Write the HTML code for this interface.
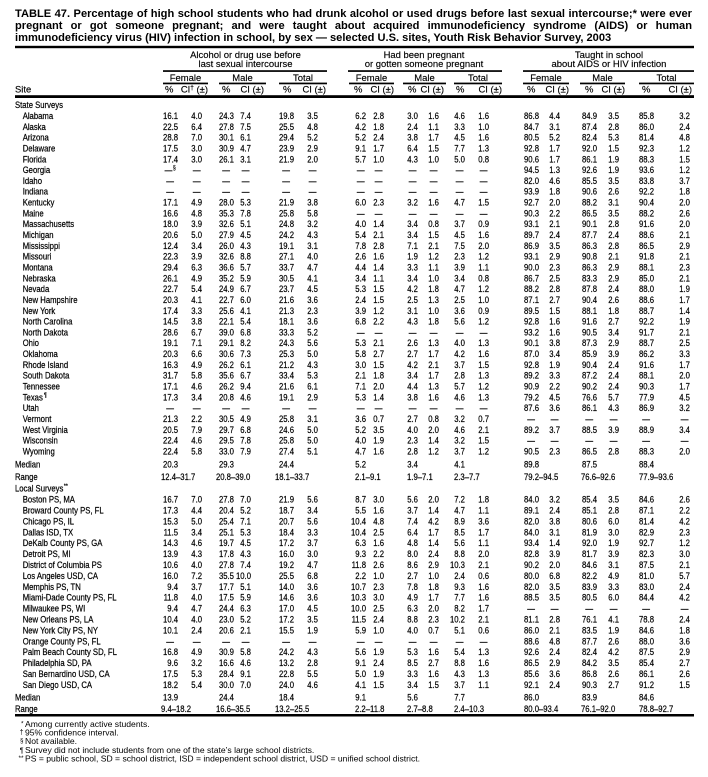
<!DOCTYPE html>
<html><head><meta charset="utf-8">
<style>
html,body{margin:0;padding:0;background:#fff;}
body{width:708px;height:777px;position:relative;overflow:hidden;}
.t{position:absolute;left:15px;width:677px;font-family:"Liberation Sans",Arial,sans-serif;font-weight:bold;font-size:11.1px;line-height:12px;color:#000;}
.j{text-align:justify;text-align-last:justify;}
.nw{white-space:nowrap;}
svg{position:absolute;left:0;top:0;}
svg text{font-family:"Liberation Sans",Arial,sans-serif;fill:#000;}
.h{font-size:9.45px;}
.h text{stroke:#000;stroke-width:0.15;}
.b text{stroke:#000;stroke-width:0.22;}
.m{text-anchor:middle;}
.n{text-anchor:end;}
.s{font-size:6px;}
</style></head><body>
<svg width="708" height="777" viewBox="0 0 708 777" xmlns="http://www.w3.org/2000/svg">
<rect x="0" y="0" width="708" height="777" fill="#fff"/>
<!-- rules -->
<rect x="15" y="45.8" width="679" height="2.4" fill="#000"/>
<rect x="163" y="70.2" width="164" height="1.7" fill="#000"/>
<rect x="348" y="70.2" width="154" height="1.7" fill="#000"/>
<rect x="523" y="70.2" width="171" height="1.7" fill="#000"/>
<rect x="163" y="82.6" width="45" height="1.7" fill="#000"/>
<rect x="219" y="82.6" width="47" height="1.7" fill="#000"/>
<rect x="279" y="82.6" width="48" height="1.7" fill="#000"/>
<rect x="349" y="82.6" width="45" height="1.7" fill="#000"/>
<rect x="403" y="82.6" width="43" height="1.7" fill="#000"/>
<rect x="454" y="82.6" width="48" height="1.7" fill="#000"/>
<rect x="523" y="82.6" width="46" height="1.7" fill="#000"/>
<rect x="580" y="82.6" width="45" height="1.7" fill="#000"/>
<rect x="639" y="82.6" width="55" height="1.7" fill="#000"/>
<rect x="15" y="95.2" width="679" height="2.8" fill="#000"/>
<rect x="15" y="714" width="679" height="2.5" fill="#000"/>

<!-- header -->
<g class="h">
<text class="m" x="245.5" y="58.2">Alcohol or drug use before</text>
<text class="m" x="245.5" y="67.2">last sexual intercourse</text>
<text class="m" x="424" y="58.2">Had been pregnant</text>
<text class="m" x="424" y="67.2">or gotten someone pregnant</text>
<text class="m" x="609" y="58.2">Taught in school</text>
<text class="m" x="609" y="67.2">about AIDS or HIV infection</text>
<text class="m" x="185.5" y="80.8">Female</text>
<text class="m" x="242.5" y="80.8">Male</text>
<text class="m" x="303" y="80.8">Total</text>
<text class="m" x="371.5" y="80.8">Female</text>
<text class="m" x="424.5" y="80.8">Male</text>
<text class="m" x="478" y="80.8">Total</text>
<text class="m" x="546" y="80.8">Female</text>
<text class="m" x="602.5" y="80.8">Male</text>
<text class="m" x="666.5" y="80.8">Total</text>
<text x="15" y="92.6">Site</text>
<text x="165" y="92.6">%</text><text class="n" x="208" y="92.6">CI<tspan font-size="6.5" dy="-3">†</tspan><tspan dy="3"> (±)</tspan></text>
<text x="222" y="92.6">%</text><text class="n" x="264" y="92.6">CI (±)</text>
<text x="283" y="92.6">%</text><text class="n" x="326" y="92.6">CI (±)</text>
<text x="354" y="92.6">%</text><text class="n" x="394" y="92.6">CI (±)</text>
<text x="408" y="92.6">%</text><text class="n" x="444" y="92.6">CI (±)</text>
<text x="456" y="92.6">%</text><text class="n" x="502" y="92.6">CI (±)</text>
<text x="527" y="92.6">%</text><text class="n" x="569" y="92.6">CI (±)</text>
<text x="585" y="92.6">%</text><text class="n" x="625" y="92.6">CI (±)</text>
<text x="642" y="92.6">%</text><text class="n" x="692" y="92.6">CI (±)</text>
</g>

<!-- body (condensed) -->
<g class="b" transform="scale(0.83,1)" font-size="9.3">
<text x="18.07" y="108">State Surveys</text>

<text x="27.35" y="119">Alabama</text>
<text class="n" y="119"><tspan x="214.5">16.1</tspan><tspan x="243.4">4.0</tspan><tspan x="281.9">24.3</tspan><tspan x="302.4">7.4</tspan><tspan x="354.2">19.8</tspan><tspan x="383.1">3.5</tspan><tspan x="441">6.2</tspan><tspan x="462.7">2.8</tspan><tspan x="503.6">3.0</tspan><tspan x="528.9">1.6</tspan><tspan x="560.2">4.6</tspan><tspan x="589.2">1.6</tspan><tspan x="649.4">86.8</tspan><tspan x="674.7">4.4</tspan><tspan x="719.3">84.9</tspan><tspan x="745.8">3.5</tspan><tspan x="788">85.8</tspan><tspan x="831.3">3.2</tspan></text>

<text x="27.35" y="129.8">Alaska</text>
<text class="n" y="129.8"><tspan x="214.5">22.5</tspan><tspan x="243.4">6.4</tspan><tspan x="281.9">27.8</tspan><tspan x="302.4">7.5</tspan><tspan x="354.2">25.5</tspan><tspan x="383.1">4.8</tspan><tspan x="441">4.2</tspan><tspan x="462.7">1.8</tspan><tspan x="503.6">2.4</tspan><tspan x="528.9">1.1</tspan><tspan x="560.2">3.3</tspan><tspan x="589.2">1.0</tspan><tspan x="649.4">84.7</tspan><tspan x="674.7">3.1</tspan><tspan x="719.3">87.4</tspan><tspan x="745.8">2.8</tspan><tspan x="788">86.0</tspan><tspan x="831.3">2.4</tspan></text>

<text x="27.35" y="140.6">Arizona</text>
<text class="n" y="140.6"><tspan x="214.5">28.8</tspan><tspan x="243.4">7.0</tspan><tspan x="281.9">30.1</tspan><tspan x="302.4">6.1</tspan><tspan x="354.2">29.4</tspan><tspan x="383.1">5.2</tspan><tspan x="441">5.2</tspan><tspan x="462.7">2.4</tspan><tspan x="503.6">3.8</tspan><tspan x="528.9">1.7</tspan><tspan x="560.2">4.5</tspan><tspan x="589.2">1.6</tspan><tspan x="649.4">80.5</tspan><tspan x="674.7">5.2</tspan><tspan x="719.3">82.4</tspan><tspan x="745.8">5.3</tspan><tspan x="788">81.4</tspan><tspan x="831.3">4.8</tspan></text>

<text x="27.35" y="151.5">Delaware</text>
<text class="n" y="151.5"><tspan x="214.5">17.5</tspan><tspan x="243.4">3.0</tspan><tspan x="281.9">30.9</tspan><tspan x="302.4">4.7</tspan><tspan x="354.2">23.9</tspan><tspan x="383.1">2.9</tspan><tspan x="441">9.1</tspan><tspan x="462.7">1.7</tspan><tspan x="503.6">6.4</tspan><tspan x="528.9">1.5</tspan><tspan x="560.2">7.7</tspan><tspan x="589.2">1.3</tspan><tspan x="649.4">92.8</tspan><tspan x="674.7">1.7</tspan><tspan x="719.3">92.0</tspan><tspan x="745.8">1.5</tspan><tspan x="788">92.3</tspan><tspan x="831.3">1.2</tspan></text>

<text x="27.35" y="162.3">Florida</text>
<text class="n" y="162.3"><tspan x="214.5">17.4</tspan><tspan x="243.4">3.0</tspan><tspan x="281.9">26.1</tspan><tspan x="302.4">3.1</tspan><tspan x="354.2">21.9</tspan><tspan x="383.1">2.0</tspan><tspan x="441">5.7</tspan><tspan x="462.7">1.0</tspan><tspan x="503.6">4.3</tspan><tspan x="528.9">1.0</tspan><tspan x="560.2">5.0</tspan><tspan x="589.2">0.8</tspan><tspan x="649.4">90.6</tspan><tspan x="674.7">1.7</tspan><tspan x="719.3">86.1</tspan><tspan x="745.8">1.9</tspan><tspan x="788">88.3</tspan><tspan x="831.3">1.5</tspan></text>

<text x="27.35" y="173.1">Georgia</text>
<text class="n" y="173.1"><tspan x="207.6">—</tspan><tspan x="241.6">—</tspan><tspan x="277.1">—</tspan><tspan x="300.6">—</tspan><tspan x="349.4">—</tspan><tspan x="381.3">—</tspan><tspan x="439.2">—</tspan><tspan x="460.8">—</tspan><tspan x="501.8">—</tspan><tspan x="527.1">—</tspan><tspan x="558.4">—</tspan><tspan x="587.3">—</tspan><tspan x="649.4">94.5</tspan><tspan x="674.7">1.3</tspan><tspan x="719.3">92.6</tspan><tspan x="745.8">1.9</tspan><tspan x="788">93.6</tspan><tspan x="831.3">1.2</tspan></text>
<text class="s" x="208.4" y="169.6">§</text>

<text x="27.35" y="183.9">Idaho</text>
<text class="n" y="183.9"><tspan x="209.6">—</tspan><tspan x="241.6">—</tspan><tspan x="277.1">—</tspan><tspan x="300.6">—</tspan><tspan x="349.4">—</tspan><tspan x="381.3">—</tspan><tspan x="439.2">—</tspan><tspan x="460.8">—</tspan><tspan x="501.8">—</tspan><tspan x="527.1">—</tspan><tspan x="558.4">—</tspan><tspan x="587.3">—</tspan><tspan x="649.4">82.0</tspan><tspan x="674.7">4.6</tspan><tspan x="719.3">85.5</tspan><tspan x="745.8">3.5</tspan><tspan x="788">83.8</tspan><tspan x="831.3">3.7</tspan></text>

<text x="27.35" y="194.7">Indiana</text>
<text class="n" y="194.7"><tspan x="209.6">—</tspan><tspan x="241.6">—</tspan><tspan x="277.1">—</tspan><tspan x="300.6">—</tspan><tspan x="349.4">—</tspan><tspan x="381.3">—</tspan><tspan x="439.2">—</tspan><tspan x="460.8">—</tspan><tspan x="501.8">—</tspan><tspan x="527.1">—</tspan><tspan x="558.4">—</tspan><tspan x="587.3">—</tspan><tspan x="649.4">93.9</tspan><tspan x="674.7">1.8</tspan><tspan x="719.3">90.6</tspan><tspan x="745.8">2.6</tspan><tspan x="788">92.2</tspan><tspan x="831.3">1.8</tspan></text>

<text x="27.35" y="205.6">Kentucky</text>
<text class="n" y="205.6"><tspan x="214.5">17.1</tspan><tspan x="243.4">4.9</tspan><tspan x="281.9">28.0</tspan><tspan x="302.4">5.3</tspan><tspan x="354.2">21.9</tspan><tspan x="383.1">3.8</tspan><tspan x="441">6.0</tspan><tspan x="462.7">2.3</tspan><tspan x="503.6">3.2</tspan><tspan x="528.9">1.6</tspan><tspan x="560.2">4.7</tspan><tspan x="589.2">1.5</tspan><tspan x="649.4">92.7</tspan><tspan x="674.7">2.0</tspan><tspan x="719.3">88.2</tspan><tspan x="745.8">3.1</tspan><tspan x="788">90.4</tspan><tspan x="831.3">2.0</tspan></text>

<text x="27.35" y="216.4">Maine</text>
<text class="n" y="216.4"><tspan x="214.5">16.6</tspan><tspan x="243.4">4.8</tspan><tspan x="281.9">35.3</tspan><tspan x="302.4">7.8</tspan><tspan x="354.2">25.8</tspan><tspan x="383.1">5.8</tspan><tspan x="439.2">—</tspan><tspan x="460.8">—</tspan><tspan x="501.8">—</tspan><tspan x="527.1">—</tspan><tspan x="558.4">—</tspan><tspan x="587.3">—</tspan><tspan x="649.4">90.3</tspan><tspan x="674.7">2.2</tspan><tspan x="719.3">86.5</tspan><tspan x="745.8">3.5</tspan><tspan x="788">88.2</tspan><tspan x="831.3">2.6</tspan></text>

<text x="27.35" y="227.2">Massachusetts</text>
<text class="n" y="227.2"><tspan x="214.5">18.0</tspan><tspan x="243.4">3.9</tspan><tspan x="281.9">32.6</tspan><tspan x="302.4">5.1</tspan><tspan x="354.2">24.8</tspan><tspan x="383.1">3.2</tspan><tspan x="441">4.0</tspan><tspan x="462.7">1.4</tspan><tspan x="503.6">3.4</tspan><tspan x="528.9">0.8</tspan><tspan x="560.2">3.7</tspan><tspan x="589.2">0.9</tspan><tspan x="649.4">93.1</tspan><tspan x="674.7">2.1</tspan><tspan x="719.3">90.1</tspan><tspan x="745.8">2.8</tspan><tspan x="788">91.6</tspan><tspan x="831.3">2.0</tspan></text>

<text x="27.35" y="238">Michigan</text>
<text class="n" y="238"><tspan x="214.5">20.6</tspan><tspan x="243.4">5.0</tspan><tspan x="281.9">27.9</tspan><tspan x="302.4">4.5</tspan><tspan x="354.2">24.2</tspan><tspan x="383.1">4.3</tspan><tspan x="441">5.4</tspan><tspan x="462.7">2.1</tspan><tspan x="503.6">3.4</tspan><tspan x="528.9">1.5</tspan><tspan x="560.2">4.5</tspan><tspan x="589.2">1.6</tspan><tspan x="649.4">89.7</tspan><tspan x="674.7">2.4</tspan><tspan x="719.3">87.7</tspan><tspan x="745.8">2.4</tspan><tspan x="788">88.6</tspan><tspan x="831.3">2.1</tspan></text>

<text x="27.35" y="248.8">Mississippi</text>
<text class="n" y="248.8"><tspan x="214.5">12.4</tspan><tspan x="243.4">3.4</tspan><tspan x="281.9">26.0</tspan><tspan x="302.4">4.3</tspan><tspan x="354.2">19.1</tspan><tspan x="383.1">3.1</tspan><tspan x="441">7.8</tspan><tspan x="462.7">2.8</tspan><tspan x="503.6">7.1</tspan><tspan x="528.9">2.1</tspan><tspan x="560.2">7.5</tspan><tspan x="589.2">2.0</tspan><tspan x="649.4">86.9</tspan><tspan x="674.7">3.5</tspan><tspan x="719.3">86.3</tspan><tspan x="745.8">2.8</tspan><tspan x="788">86.5</tspan><tspan x="831.3">2.9</tspan></text>

<text x="27.35" y="259.7">Missouri</text>
<text class="n" y="259.7"><tspan x="214.5">22.3</tspan><tspan x="243.4">3.9</tspan><tspan x="281.9">32.6</tspan><tspan x="302.4">8.8</tspan><tspan x="354.2">27.1</tspan><tspan x="383.1">4.0</tspan><tspan x="441">2.6</tspan><tspan x="462.7">1.6</tspan><tspan x="503.6">1.9</tspan><tspan x="528.9">1.2</tspan><tspan x="560.2">2.3</tspan><tspan x="589.2">1.2</tspan><tspan x="649.4">93.1</tspan><tspan x="674.7">2.9</tspan><tspan x="719.3">90.8</tspan><tspan x="745.8">2.1</tspan><tspan x="788">91.8</tspan><tspan x="831.3">2.1</tspan></text>

<text x="27.35" y="270.5">Montana</text>
<text class="n" y="270.5"><tspan x="214.5">29.4</tspan><tspan x="243.4">6.3</tspan><tspan x="281.9">36.6</tspan><tspan x="302.4">5.7</tspan><tspan x="354.2">33.7</tspan><tspan x="383.1">4.7</tspan><tspan x="441">4.4</tspan><tspan x="462.7">1.4</tspan><tspan x="503.6">3.3</tspan><tspan x="528.9">1.1</tspan><tspan x="560.2">3.9</tspan><tspan x="589.2">1.1</tspan><tspan x="649.4">90.0</tspan><tspan x="674.7">2.3</tspan><tspan x="719.3">86.3</tspan><tspan x="745.8">2.9</tspan><tspan x="788">88.1</tspan><tspan x="831.3">2.3</tspan></text>

<text x="27.35" y="281.3">Nebraska</text>
<text class="n" y="281.3"><tspan x="214.5">26.1</tspan><tspan x="243.4">4.9</tspan><tspan x="281.9">35.2</tspan><tspan x="302.4">5.9</tspan><tspan x="354.2">30.5</tspan><tspan x="383.1">4.1</tspan><tspan x="441">3.4</tspan><tspan x="462.7">1.1</tspan><tspan x="503.6">3.4</tspan><tspan x="528.9">1.0</tspan><tspan x="560.2">3.4</tspan><tspan x="589.2">0.8</tspan><tspan x="649.4">86.7</tspan><tspan x="674.7">2.5</tspan><tspan x="719.3">83.3</tspan><tspan x="745.8">2.9</tspan><tspan x="788">85.0</tspan><tspan x="831.3">2.1</tspan></text>

<text x="27.35" y="292.1">Nevada</text>
<text class="n" y="292.1"><tspan x="214.5">22.7</tspan><tspan x="243.4">5.4</tspan><tspan x="281.9">24.9</tspan><tspan x="302.4">6.7</tspan><tspan x="354.2">23.7</tspan><tspan x="383.1">4.5</tspan><tspan x="441">5.3</tspan><tspan x="462.7">1.5</tspan><tspan x="503.6">4.2</tspan><tspan x="528.9">1.8</tspan><tspan x="560.2">4.7</tspan><tspan x="589.2">1.2</tspan><tspan x="649.4">88.2</tspan><tspan x="674.7">2.8</tspan><tspan x="719.3">87.8</tspan><tspan x="745.8">2.4</tspan><tspan x="788">88.0</tspan><tspan x="831.3">1.9</tspan></text>

<text x="27.35" y="302.9">New Hampshire</text>
<text class="n" y="302.9"><tspan x="214.5">20.3</tspan><tspan x="243.4">4.1</tspan><tspan x="281.9">22.7</tspan><tspan x="302.4">6.0</tspan><tspan x="354.2">21.6</tspan><tspan x="383.1">3.6</tspan><tspan x="441">2.4</tspan><tspan x="462.7">1.5</tspan><tspan x="503.6">2.5</tspan><tspan x="528.9">1.3</tspan><tspan x="560.2">2.5</tspan><tspan x="589.2">1.0</tspan><tspan x="649.4">87.1</tspan><tspan x="674.7">2.7</tspan><tspan x="719.3">90.4</tspan><tspan x="745.8">2.6</tspan><tspan x="788">88.6</tspan><tspan x="831.3">1.7</tspan></text>

<text x="27.35" y="313.8">New York</text>
<text class="n" y="313.8"><tspan x="214.5">17.4</tspan><tspan x="243.4">3.3</tspan><tspan x="281.9">25.6</tspan><tspan x="302.4">4.1</tspan><tspan x="354.2">21.3</tspan><tspan x="383.1">2.3</tspan><tspan x="441">3.9</tspan><tspan x="462.7">1.2</tspan><tspan x="503.6">3.1</tspan><tspan x="528.9">1.0</tspan><tspan x="560.2">3.6</tspan><tspan x="589.2">0.9</tspan><tspan x="649.4">89.5</tspan><tspan x="674.7">1.5</tspan><tspan x="719.3">88.1</tspan><tspan x="745.8">1.8</tspan><tspan x="788">88.7</tspan><tspan x="831.3">1.4</tspan></text>

<text x="27.35" y="324.6">North Carolina</text>
<text class="n" y="324.6"><tspan x="214.5">14.5</tspan><tspan x="243.4">3.8</tspan><tspan x="281.9">22.1</tspan><tspan x="302.4">5.4</tspan><tspan x="354.2">18.1</tspan><tspan x="383.1">3.6</tspan><tspan x="441">6.8</tspan><tspan x="462.7">2.2</tspan><tspan x="503.6">4.3</tspan><tspan x="528.9">1.8</tspan><tspan x="560.2">5.6</tspan><tspan x="589.2">1.2</tspan><tspan x="649.4">92.8</tspan><tspan x="674.7">1.6</tspan><tspan x="719.3">91.6</tspan><tspan x="745.8">2.7</tspan><tspan x="788">92.2</tspan><tspan x="831.3">1.9</tspan></text>

<text x="27.35" y="335.4">North Dakota</text>
<text class="n" y="335.4"><tspan x="214.5">28.6</tspan><tspan x="243.4">6.7</tspan><tspan x="281.9">39.0</tspan><tspan x="302.4">6.8</tspan><tspan x="354.2">33.3</tspan><tspan x="383.1">5.2</tspan><tspan x="439.2">—</tspan><tspan x="460.8">—</tspan><tspan x="501.8">—</tspan><tspan x="527.1">—</tspan><tspan x="558.4">—</tspan><tspan x="587.3">—</tspan><tspan x="649.4">93.2</tspan><tspan x="674.7">1.6</tspan><tspan x="719.3">90.5</tspan><tspan x="745.8">3.4</tspan><tspan x="788">91.7</tspan><tspan x="831.3">2.1</tspan></text>

<text x="27.35" y="346.2">Ohio</text>
<text class="n" y="346.2"><tspan x="214.5">19.1</tspan><tspan x="243.4">7.1</tspan><tspan x="281.9">29.1</tspan><tspan x="302.4">8.2</tspan><tspan x="354.2">24.3</tspan><tspan x="383.1">5.6</tspan><tspan x="441">5.3</tspan><tspan x="462.7">2.1</tspan><tspan x="503.6">2.6</tspan><tspan x="528.9">1.3</tspan><tspan x="560.2">4.0</tspan><tspan x="589.2">1.3</tspan><tspan x="649.4">90.1</tspan><tspan x="674.7">3.8</tspan><tspan x="719.3">87.3</tspan><tspan x="745.8">2.9</tspan><tspan x="788">88.7</tspan><tspan x="831.3">2.5</tspan></text>

<text x="27.35" y="357">Oklahoma</text>
<text class="n" y="357"><tspan x="214.5">20.3</tspan><tspan x="243.4">6.6</tspan><tspan x="281.9">30.6</tspan><tspan x="302.4">7.3</tspan><tspan x="354.2">25.3</tspan><tspan x="383.1">5.0</tspan><tspan x="441">5.8</tspan><tspan x="462.7">2.7</tspan><tspan x="503.6">2.7</tspan><tspan x="528.9">1.7</tspan><tspan x="560.2">4.2</tspan><tspan x="589.2">1.6</tspan><tspan x="649.4">87.0</tspan><tspan x="674.7">3.4</tspan><tspan x="719.3">85.9</tspan><tspan x="745.8">3.9</tspan><tspan x="788">86.2</tspan><tspan x="831.3">3.3</tspan></text>

<text x="27.35" y="367.9">Rhode Island</text>
<text class="n" y="367.9"><tspan x="214.5">16.3</tspan><tspan x="243.4">4.9</tspan><tspan x="281.9">26.2</tspan><tspan x="302.4">6.1</tspan><tspan x="354.2">21.2</tspan><tspan x="383.1">4.3</tspan><tspan x="441">3.0</tspan><tspan x="462.7">1.5</tspan><tspan x="503.6">4.2</tspan><tspan x="528.9">2.1</tspan><tspan x="560.2">3.7</tspan><tspan x="589.2">1.5</tspan><tspan x="649.4">92.8</tspan><tspan x="674.7">1.9</tspan><tspan x="719.3">90.4</tspan><tspan x="745.8">2.4</tspan><tspan x="788">91.6</tspan><tspan x="831.3">1.7</tspan></text>

<text x="27.35" y="378.7">South Dakota</text>
<text class="n" y="378.7"><tspan x="214.5">31.7</tspan><tspan x="243.4">5.8</tspan><tspan x="281.9">35.6</tspan><tspan x="302.4">6.7</tspan><tspan x="354.2">33.4</tspan><tspan x="383.1">5.3</tspan><tspan x="441">2.1</tspan><tspan x="462.7">1.8</tspan><tspan x="503.6">3.4</tspan><tspan x="528.9">1.7</tspan><tspan x="560.2">2.8</tspan><tspan x="589.2">1.3</tspan><tspan x="649.4">89.2</tspan><tspan x="674.7">3.3</tspan><tspan x="719.3">87.2</tspan><tspan x="745.8">2.4</tspan><tspan x="788">88.1</tspan><tspan x="831.3">2.0</tspan></text>

<text x="27.35" y="389.5">Tennessee</text>
<text class="n" y="389.5"><tspan x="214.5">17.1</tspan><tspan x="243.4">4.6</tspan><tspan x="281.9">26.2</tspan><tspan x="302.4">9.4</tspan><tspan x="354.2">21.6</tspan><tspan x="383.1">6.1</tspan><tspan x="441">7.1</tspan><tspan x="462.7">2.0</tspan><tspan x="503.6">4.4</tspan><tspan x="528.9">1.3</tspan><tspan x="560.2">5.7</tspan><tspan x="589.2">1.2</tspan><tspan x="649.4">90.9</tspan><tspan x="674.7">2.2</tspan><tspan x="719.3">90.2</tspan><tspan x="745.8">2.4</tspan><tspan x="788">90.3</tspan><tspan x="831.3">1.7</tspan></text>

<text x="27.35" y="400.3">Texas</text>
<text class="s" x="53" y="396.8">¶</text>
<text class="n" y="400.3"><tspan x="214.5">17.3</tspan><tspan x="243.4">3.4</tspan><tspan x="281.9">20.8</tspan><tspan x="302.4">4.6</tspan><tspan x="354.2">19.1</tspan><tspan x="383.1">2.9</tspan><tspan x="441">5.3</tspan><tspan x="462.7">1.4</tspan><tspan x="503.6">3.8</tspan><tspan x="528.9">1.6</tspan><tspan x="560.2">4.6</tspan><tspan x="589.2">1.3</tspan><tspan x="649.4">79.2</tspan><tspan x="674.7">4.5</tspan><tspan x="719.3">76.6</tspan><tspan x="745.8">5.7</tspan><tspan x="788">77.9</tspan><tspan x="831.3">4.5</tspan></text>

<text x="27.35" y="411.1">Utah</text>
<text class="n" y="411.1"><tspan x="209.6">—</tspan><tspan x="241.6">—</tspan><tspan x="277.1">—</tspan><tspan x="300.6">—</tspan><tspan x="349.4">—</tspan><tspan x="381.3">—</tspan><tspan x="439.2">—</tspan><tspan x="460.8">—</tspan><tspan x="501.8">—</tspan><tspan x="527.1">—</tspan><tspan x="558.4">—</tspan><tspan x="587.3">—</tspan><tspan x="649.4">87.6</tspan><tspan x="674.7">3.6</tspan><tspan x="719.3">86.1</tspan><tspan x="745.8">4.3</tspan><tspan x="788">86.9</tspan><tspan x="831.3">3.2</tspan></text>

<text x="27.35" y="422">Vermont</text>
<text class="n" y="422"><tspan x="214.5">21.3</tspan><tspan x="243.4">2.2</tspan><tspan x="281.9">30.5</tspan><tspan x="302.4">4.9</tspan><tspan x="354.2">25.8</tspan><tspan x="383.1">3.1</tspan><tspan x="441">3.6</tspan><tspan x="462.7">0.7</tspan><tspan x="503.6">2.7</tspan><tspan x="528.9">0.8</tspan><tspan x="560.2">3.2</tspan><tspan x="589.2">0.7</tspan><tspan x="644.6">—</tspan><tspan x="672.9">—</tspan><tspan x="714.5">—</tspan><tspan x="744">—</tspan><tspan x="783.1">—</tspan><tspan x="829.5">—</tspan></text>

<text x="27.35" y="432.8">West Virginia</text>
<text class="n" y="432.8"><tspan x="214.5">20.5</tspan><tspan x="243.4">7.9</tspan><tspan x="281.9">29.7</tspan><tspan x="302.4">6.8</tspan><tspan x="354.2">24.6</tspan><tspan x="383.1">5.0</tspan><tspan x="441">5.2</tspan><tspan x="462.7">3.5</tspan><tspan x="503.6">4.0</tspan><tspan x="528.9">2.0</tspan><tspan x="560.2">4.6</tspan><tspan x="589.2">2.1</tspan><tspan x="649.4">89.2</tspan><tspan x="674.7">3.7</tspan><tspan x="719.3">88.5</tspan><tspan x="745.8">3.9</tspan><tspan x="788">88.9</tspan><tspan x="831.3">3.4</tspan></text>

<text x="27.35" y="443.6">Wisconsin</text>
<text class="n" y="443.6"><tspan x="214.5">22.4</tspan><tspan x="243.4">4.6</tspan><tspan x="281.9">29.5</tspan><tspan x="302.4">7.8</tspan><tspan x="354.2">25.8</tspan><tspan x="383.1">5.0</tspan><tspan x="441">4.0</tspan><tspan x="462.7">1.9</tspan><tspan x="503.6">2.3</tspan><tspan x="528.9">1.4</tspan><tspan x="560.2">3.2</tspan><tspan x="589.2">1.5</tspan><tspan x="644.6">—</tspan><tspan x="672.9">—</tspan><tspan x="714.5">—</tspan><tspan x="744">—</tspan><tspan x="783.1">—</tspan><tspan x="829.5">—</tspan></text>

<text x="27.35" y="454.4">Wyoming</text>
<text class="n" y="454.4"><tspan x="214.5">22.4</tspan><tspan x="243.4">5.8</tspan><tspan x="281.9">33.0</tspan><tspan x="302.4">7.9</tspan><tspan x="354.2">27.4</tspan><tspan x="383.1">5.1</tspan><tspan x="441">4.7</tspan><tspan x="462.7">1.6</tspan><tspan x="503.6">2.8</tspan><tspan x="528.9">1.2</tspan><tspan x="560.2">3.7</tspan><tspan x="589.2">1.2</tspan><tspan x="649.4">90.5</tspan><tspan x="674.7">2.3</tspan><tspan x="719.3">86.5</tspan><tspan x="745.8">2.8</tspan><tspan x="788">88.3</tspan><tspan x="831.3">2.0</tspan></text>

<text x="18.07" y="467.6">Median</text>
<text class="n" y="467.6"><tspan x="214.5">20.3</tspan><tspan x="281.9">29.3</tspan><tspan x="354.2">24.4</tspan><tspan x="441">5.2</tspan><tspan x="503.6">3.4</tspan><tspan x="560.2">4.1</tspan><tspan x="649.4">89.8</tspan><tspan x="719.3">87.5</tspan><tspan x="788">88.4</tspan></text>

<text x="18.07" y="480">Range</text>
<text y="480"><tspan x="194">12.4–31.7</tspan><tspan x="260.2">20.8–39.0</tspan><tspan x="331.3">18.1–33.7</tspan><tspan x="427.7">2.1–9.1</tspan><tspan x="490.4">1.9–7.1</tspan><tspan x="547">2.3–7.7</tspan><tspan x="631.3">79.2–94.5</tspan><tspan x="700">76.6–92.6</tspan><tspan x="769.9">77.9–93.6</tspan></text>

<text x="18.07" y="491.6">Local Surveys</text>
<text class="s" x="77" y="488.1">**</text>

<text x="27.35" y="502.6">Boston PS, MA</text>
<text class="n" y="502.6"><tspan x="214.5">16.7</tspan><tspan x="243.4">7.0</tspan><tspan x="281.9">27.8</tspan><tspan x="302.4">7.0</tspan><tspan x="354.2">21.9</tspan><tspan x="383.1">5.6</tspan><tspan x="441">8.7</tspan><tspan x="462.7">3.0</tspan><tspan x="503.6">5.6</tspan><tspan x="528.9">2.0</tspan><tspan x="560.2">7.2</tspan><tspan x="589.2">1.8</tspan><tspan x="649.4">84.0</tspan><tspan x="674.7">3.2</tspan><tspan x="719.3">85.4</tspan><tspan x="745.8">3.5</tspan><tspan x="788">84.6</tspan><tspan x="831.3">2.6</tspan></text>

<text x="27.35" y="513.5">Broward County PS, FL</text>
<text class="n" y="513.5"><tspan x="214.5">17.3</tspan><tspan x="243.4">4.4</tspan><tspan x="281.9">20.4</tspan><tspan x="302.4">5.2</tspan><tspan x="354.2">18.7</tspan><tspan x="383.1">3.4</tspan><tspan x="441">5.5</tspan><tspan x="462.7">1.6</tspan><tspan x="503.6">3.7</tspan><tspan x="528.9">1.4</tspan><tspan x="560.2">4.7</tspan><tspan x="589.2">1.1</tspan><tspan x="649.4">89.1</tspan><tspan x="674.7">2.4</tspan><tspan x="719.3">85.1</tspan><tspan x="745.8">2.8</tspan><tspan x="788">87.1</tspan><tspan x="831.3">2.2</tspan></text>

<text x="27.35" y="524.4">Chicago PS, IL</text>
<text class="n" y="524.4"><tspan x="214.5">15.3</tspan><tspan x="243.4">5.0</tspan><tspan x="281.9">25.4</tspan><tspan x="302.4">7.1</tspan><tspan x="354.2">20.7</tspan><tspan x="383.1">5.6</tspan><tspan x="441">10.4</tspan><tspan x="462.7">4.8</tspan><tspan x="503.6">7.4</tspan><tspan x="528.9">4.2</tspan><tspan x="560.2">8.9</tspan><tspan x="589.2">3.6</tspan><tspan x="649.4">82.0</tspan><tspan x="674.7">3.8</tspan><tspan x="719.3">80.6</tspan><tspan x="745.8">6.0</tspan><tspan x="788">81.4</tspan><tspan x="831.3">4.2</tspan></text>

<text x="27.35" y="535.3">Dallas ISD, TX</text>
<text class="n" y="535.3"><tspan x="214.5">11.5</tspan><tspan x="243.4">3.4</tspan><tspan x="281.9">25.1</tspan><tspan x="302.4">5.3</tspan><tspan x="354.2">18.4</tspan><tspan x="383.1">3.3</tspan><tspan x="441">10.4</tspan><tspan x="462.7">2.5</tspan><tspan x="503.6">6.4</tspan><tspan x="528.9">1.7</tspan><tspan x="560.2">8.5</tspan><tspan x="589.2">1.7</tspan><tspan x="649.4">84.0</tspan><tspan x="674.7">3.1</tspan><tspan x="719.3">81.9</tspan><tspan x="745.8">3.0</tspan><tspan x="788">82.9</tspan><tspan x="831.3">2.3</tspan></text>

<text x="27.35" y="546.2">DeKalb County PS, GA</text>
<text class="n" y="546.2"><tspan x="214.5">14.3</tspan><tspan x="243.4">4.6</tspan><tspan x="281.9">19.7</tspan><tspan x="302.4">4.5</tspan><tspan x="354.2">17.2</tspan><tspan x="383.1">3.7</tspan><tspan x="441">6.3</tspan><tspan x="462.7">1.6</tspan><tspan x="503.6">4.8</tspan><tspan x="528.9">1.4</tspan><tspan x="560.2">5.6</tspan><tspan x="589.2">1.1</tspan><tspan x="649.4">93.4</tspan><tspan x="674.7">1.4</tspan><tspan x="719.3">92.0</tspan><tspan x="745.8">1.9</tspan><tspan x="788">92.7</tspan><tspan x="831.3">1.2</tspan></text>

<text x="27.35" y="557.1">Detroit PS, MI</text>
<text class="n" y="557.1"><tspan x="214.5">13.9</tspan><tspan x="243.4">4.3</tspan><tspan x="281.9">17.8</tspan><tspan x="302.4">4.3</tspan><tspan x="354.2">16.0</tspan><tspan x="383.1">3.0</tspan><tspan x="441">9.3</tspan><tspan x="462.7">2.2</tspan><tspan x="503.6">8.0</tspan><tspan x="528.9">2.4</tspan><tspan x="560.2">8.8</tspan><tspan x="589.2">2.0</tspan><tspan x="649.4">82.8</tspan><tspan x="674.7">3.9</tspan><tspan x="719.3">81.7</tspan><tspan x="745.8">3.9</tspan><tspan x="788">82.3</tspan><tspan x="831.3">3.0</tspan></text>

<text x="27.35" y="568">District of Columbia PS</text>
<text class="n" y="568"><tspan x="214.5">10.6</tspan><tspan x="243.4">4.0</tspan><tspan x="281.9">27.8</tspan><tspan x="302.4">7.4</tspan><tspan x="354.2">19.2</tspan><tspan x="383.1">4.7</tspan><tspan x="441">11.8</tspan><tspan x="462.7">2.6</tspan><tspan x="503.6">8.6</tspan><tspan x="528.9">2.9</tspan><tspan x="560.2">10.3</tspan><tspan x="589.2">2.1</tspan><tspan x="649.4">90.2</tspan><tspan x="674.7">2.0</tspan><tspan x="719.3">84.6</tspan><tspan x="745.8">3.1</tspan><tspan x="788">87.5</tspan><tspan x="831.3">2.1</tspan></text>

<text x="27.35" y="578.9">Los Angeles USD, CA</text>
<text class="n" y="578.9"><tspan x="214.5">16.0</tspan><tspan x="243.4">7.2</tspan><tspan x="281.9">35.5</tspan><tspan x="302.4">10.0</tspan><tspan x="354.2">25.5</tspan><tspan x="383.1">6.8</tspan><tspan x="441">2.2</tspan><tspan x="462.7">1.0</tspan><tspan x="503.6">2.7</tspan><tspan x="528.9">1.0</tspan><tspan x="560.2">2.4</tspan><tspan x="589.2">0.6</tspan><tspan x="649.4">80.0</tspan><tspan x="674.7">6.8</tspan><tspan x="719.3">82.2</tspan><tspan x="745.8">4.9</tspan><tspan x="788">81.0</tspan><tspan x="831.3">5.7</tspan></text>

<text x="27.35" y="589.8">Memphis PS, TN</text>
<text class="n" y="589.8"><tspan x="214.5">9.4</tspan><tspan x="243.4">3.7</tspan><tspan x="281.9">17.7</tspan><tspan x="302.4">5.1</tspan><tspan x="354.2">14.0</tspan><tspan x="383.1">3.6</tspan><tspan x="441">10.7</tspan><tspan x="462.7">2.3</tspan><tspan x="503.6">7.8</tspan><tspan x="528.9">1.8</tspan><tspan x="560.2">9.3</tspan><tspan x="589.2">1.6</tspan><tspan x="649.4">82.0</tspan><tspan x="674.7">3.5</tspan><tspan x="719.3">83.9</tspan><tspan x="745.8">3.3</tspan><tspan x="788">83.0</tspan><tspan x="831.3">2.4</tspan></text>

<text x="27.35" y="600.7">Miami-Dade County PS, FL</text>
<text class="n" y="600.7"><tspan x="214.5">11.8</tspan><tspan x="243.4">4.0</tspan><tspan x="281.9">17.5</tspan><tspan x="302.4">5.9</tspan><tspan x="354.2">14.6</tspan><tspan x="383.1">3.6</tspan><tspan x="441">10.3</tspan><tspan x="462.7">3.0</tspan><tspan x="503.6">4.9</tspan><tspan x="528.9">1.7</tspan><tspan x="560.2">7.7</tspan><tspan x="589.2">1.6</tspan><tspan x="649.4">88.5</tspan><tspan x="674.7">3.5</tspan><tspan x="719.3">80.5</tspan><tspan x="745.8">6.0</tspan><tspan x="788">84.4</tspan><tspan x="831.3">4.2</tspan></text>

<text x="27.35" y="611.6">Milwaukee PS, WI</text>
<text class="n" y="611.6"><tspan x="214.5">9.4</tspan><tspan x="243.4">4.7</tspan><tspan x="281.9">24.4</tspan><tspan x="302.4">6.3</tspan><tspan x="354.2">17.0</tspan><tspan x="383.1">4.5</tspan><tspan x="441">10.0</tspan><tspan x="462.7">2.5</tspan><tspan x="503.6">6.3</tspan><tspan x="528.9">2.0</tspan><tspan x="560.2">8.2</tspan><tspan x="589.2">1.7</tspan><tspan x="644.6">—</tspan><tspan x="672.9">—</tspan><tspan x="714.5">—</tspan><tspan x="744">—</tspan><tspan x="783.1">—</tspan><tspan x="829.5">—</tspan></text>

<text x="27.35" y="622.5">New Orleans PS, LA</text>
<text class="n" y="622.5"><tspan x="214.5">10.4</tspan><tspan x="243.4">4.0</tspan><tspan x="281.9">23.0</tspan><tspan x="302.4">5.2</tspan><tspan x="354.2">17.2</tspan><tspan x="383.1">3.5</tspan><tspan x="441">11.5</tspan><tspan x="462.7">2.4</tspan><tspan x="503.6">8.8</tspan><tspan x="528.9">2.3</tspan><tspan x="560.2">10.2</tspan><tspan x="589.2">2.1</tspan><tspan x="649.4">81.1</tspan><tspan x="674.7">2.8</tspan><tspan x="719.3">76.1</tspan><tspan x="745.8">4.1</tspan><tspan x="788">78.8</tspan><tspan x="831.3">2.4</tspan></text>

<text x="27.35" y="633.4">New York City PS, NY</text>
<text class="n" y="633.4"><tspan x="214.5">10.1</tspan><tspan x="243.4">2.4</tspan><tspan x="281.9">20.6</tspan><tspan x="302.4">2.1</tspan><tspan x="354.2">15.5</tspan><tspan x="383.1">1.9</tspan><tspan x="441">5.9</tspan><tspan x="462.7">1.0</tspan><tspan x="503.6">4.0</tspan><tspan x="528.9">0.7</tspan><tspan x="560.2">5.1</tspan><tspan x="589.2">0.6</tspan><tspan x="649.4">86.0</tspan><tspan x="674.7">2.1</tspan><tspan x="719.3">83.5</tspan><tspan x="745.8">1.9</tspan><tspan x="788">84.6</tspan><tspan x="831.3">1.8</tspan></text>

<text x="27.35" y="644.3">Orange County PS, FL</text>
<text class="n" y="644.3"><tspan x="209.6">—</tspan><tspan x="241.6">—</tspan><tspan x="277.1">—</tspan><tspan x="300.6">—</tspan><tspan x="349.4">—</tspan><tspan x="381.3">—</tspan><tspan x="439.2">—</tspan><tspan x="460.8">—</tspan><tspan x="501.8">—</tspan><tspan x="527.1">—</tspan><tspan x="558.4">—</tspan><tspan x="587.3">—</tspan><tspan x="649.4">88.6</tspan><tspan x="674.7">4.8</tspan><tspan x="719.3">87.7</tspan><tspan x="745.8">2.6</tspan><tspan x="788">88.0</tspan><tspan x="831.3">3.6</tspan></text>

<text x="27.35" y="655.2">Palm Beach County SD, FL</text>
<text class="n" y="655.2"><tspan x="214.5">16.8</tspan><tspan x="243.4">4.9</tspan><tspan x="281.9">30.9</tspan><tspan x="302.4">5.8</tspan><tspan x="354.2">24.2</tspan><tspan x="383.1">4.3</tspan><tspan x="441">5.6</tspan><tspan x="462.7">1.9</tspan><tspan x="503.6">5.3</tspan><tspan x="528.9">1.6</tspan><tspan x="560.2">5.4</tspan><tspan x="589.2">1.3</tspan><tspan x="649.4">92.6</tspan><tspan x="674.7">2.4</tspan><tspan x="719.3">82.4</tspan><tspan x="745.8">4.2</tspan><tspan x="788">87.5</tspan><tspan x="831.3">2.9</tspan></text>

<text x="27.35" y="666.1">Philadelphia SD, PA</text>
<text class="n" y="666.1"><tspan x="214.5">9.6</tspan><tspan x="243.4">3.2</tspan><tspan x="281.9">16.6</tspan><tspan x="302.4">4.6</tspan><tspan x="354.2">13.2</tspan><tspan x="383.1">2.8</tspan><tspan x="441">9.1</tspan><tspan x="462.7">2.4</tspan><tspan x="503.6">8.5</tspan><tspan x="528.9">2.7</tspan><tspan x="560.2">8.8</tspan><tspan x="589.2">1.6</tspan><tspan x="649.4">86.5</tspan><tspan x="674.7">2.9</tspan><tspan x="719.3">84.2</tspan><tspan x="745.8">3.5</tspan><tspan x="788">85.4</tspan><tspan x="831.3">2.7</tspan></text>

<text x="27.35" y="677">San Bernardino USD, CA</text>
<text class="n" y="677"><tspan x="214.5">17.5</tspan><tspan x="243.4">5.3</tspan><tspan x="281.9">28.4</tspan><tspan x="302.4">9.1</tspan><tspan x="354.2">22.8</tspan><tspan x="383.1">5.5</tspan><tspan x="441">5.0</tspan><tspan x="462.7">1.9</tspan><tspan x="503.6">3.3</tspan><tspan x="528.9">1.6</tspan><tspan x="560.2">4.3</tspan><tspan x="589.2">1.3</tspan><tspan x="649.4">85.6</tspan><tspan x="674.7">3.6</tspan><tspan x="719.3">86.8</tspan><tspan x="745.8">2.6</tspan><tspan x="788">86.1</tspan><tspan x="831.3">2.6</tspan></text>

<text x="27.35" y="687.9">San Diego USD, CA</text>
<text class="n" y="687.9"><tspan x="214.5">18.2</tspan><tspan x="243.4">5.4</tspan><tspan x="281.9">30.0</tspan><tspan x="302.4">7.0</tspan><tspan x="354.2">24.0</tspan><tspan x="383.1">4.6</tspan><tspan x="441">4.1</tspan><tspan x="462.7">1.5</tspan><tspan x="503.6">3.4</tspan><tspan x="528.9">1.5</tspan><tspan x="560.2">3.7</tspan><tspan x="589.2">1.1</tspan><tspan x="649.4">92.1</tspan><tspan x="674.7">2.4</tspan><tspan x="719.3">90.3</tspan><tspan x="745.8">2.7</tspan><tspan x="788">91.2</tspan><tspan x="831.3">1.5</tspan></text>

<text x="18.07" y="700.3">Median</text>
<text class="n" y="700.3"><tspan x="214.5">13.9</tspan><tspan x="281.9">24.4</tspan><tspan x="354.2">18.4</tspan><tspan x="441">9.1</tspan><tspan x="503.6">5.6</tspan><tspan x="560.2">7.7</tspan><tspan x="649.4">86.0</tspan><tspan x="719.3">83.9</tspan><tspan x="788">84.6</tspan></text>

<text x="18.07" y="712">Range</text>
<text y="712"><tspan x="194">9.4–18.2</tspan><tspan x="260.2">16.6–35.5</tspan><tspan x="331.3">13.2–25.5</tspan><tspan x="427.7">2.2–11.8</tspan><tspan x="490.4">2.7–8.8</tspan><tspan x="547">2.4–10.3</tspan><tspan x="631.3">80.0–93.4</tspan><tspan x="700">76.1–92.0</tspan><tspan x="769.9">78.8–92.7</tspan></text>
</g>

<!-- footnotes -->
<g font-size="8.6">
<text x="23.5" y="725.3" text-anchor="end" font-size="6.5">*</text>
<text x="25" y="726.8">Among currently active students.</text>
<text x="23.5" y="734.5" text-anchor="end" font-size="7">†</text>
<text x="25" y="735.5">95% confidence interval.</text>
<text x="23.5" y="742.7" text-anchor="end" font-size="6">§</text>
<text x="25" y="744.2">Not available.</text>
<text x="23.5" y="752.4" text-anchor="end" font-size="7">¶</text>
<text x="25" y="752.9">Survey did not include students from one of the state’s large school districts.</text>
<text x="23.5" y="760.1" text-anchor="end" font-size="6.5">**</text>
<text x="25" y="761.6">PS = public school, SD = school district, ISD = independent school district, USD = unified school district.</text>
</g>
</svg>

<div class="t j" style="top:7.6px">TABLE 47. Percentage of high school students who had drunk alcohol or used drugs before last sexual intercourse;* were ever</div>
<div class="t j" style="top:19.6px">pregnant or got someone pregnant; and were taught about acquired immunodeficiency syndrome (AIDS) or human</div>
<div class="t nw" style="top:31.6px">immunodeficiency virus (HIV) infection in school, by sex — selected U.S. sites, Youth Risk Behavior Survey, 2003</div>
</body></html>
